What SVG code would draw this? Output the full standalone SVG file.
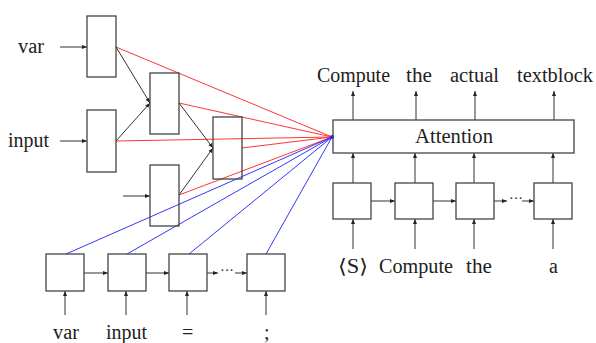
<svg xmlns="http://www.w3.org/2000/svg" width="596" height="343" viewBox="0 0 596 343">
<defs>
<marker id="ah" viewBox="0 0 10 10" refX="10" refY="5" markerWidth="5" markerHeight="5" orient="auto" markerUnits="userSpaceOnUse">
<path d="M0,1 L10,5 L0,9 z" fill="#222"/>
</marker>
</defs>
<style>
.box{fill:none;stroke:#444;stroke-width:1.3}
.ln{stroke:#333;stroke-width:1;fill:none}
.arr{stroke:#333;stroke-width:1;fill:none;marker-end:url(#ah)}
.red{stroke:#ff3535;stroke-width:1;fill:none}
.blue{stroke:#3535ff;stroke-width:1;fill:none}
text{font-family:"Liberation Serif","DejaVu Serif",serif;font-size:20px;fill:#222}
.dots{font-size:14px}
</style>
<rect width="596" height="343" fill="#fff"/>
<g id="connectors">
<path class="red" d="M116,47 L332,137 M179,103 L332,137 M116,141 L332,137 M242,148 L332,137 M179,195 L332,137"/>
<path class="blue" d="M66,254 L332,137 M127,254 L332,137 M189,254 L332,137 M266,254 L332,137"/>
<path class="arr" d="M60,47 L87,47"/>
<path class="arr" d="M60,141 L87,141"/>
<path class="arr" d="M123,196 L150,196"/>
<path class="arr" d="M116,47 L150,103"/>
<path class="arr" d="M116,141 L150,103"/>
<path class="arr" d="M179,103 L213,148"/>
<path class="arr" d="M179,195 L213,148"/>
<path class="arr" d="M84,273 L108,273"/>
<path class="arr" d="M146,273 L169,273"/>
<path class="arr" d="M207,273 L218,273"/>
<path class="arr" d="M235,273 L247,273"/>
<path class="arr" d="M65,315 L65,291"/>
<path class="arr" d="M126,315 L126,291"/>
<path class="arr" d="M187,315 L187,291"/>
<path class="arr" d="M266,315 L266,291"/>
<path class="arr" d="M371,201 L395,201"/>
<path class="arr" d="M433,201 L456,201"/>
<path class="arr" d="M494,201 L507,201"/>
<path class="arr" d="M522,201 L534,201"/>
<path class="arr" d="M353,249 L353,219"/>
<path class="arr" d="M415,249 L415,219"/>
<path class="arr" d="M474,249 L474,219"/>
<path class="arr" d="M553,249 L553,219"/>
<path class="arr" d="M353,183 L353,153"/>
<path class="arr" d="M415,183 L415,153"/>
<path class="arr" d="M474,183 L474,153"/>
<path class="arr" d="M553,183 L553,153"/>
<path class="arr" d="M353,120 L353,91"/>
<path class="arr" d="M416,120 L416,91"/>
<path class="arr" d="M475,120 L475,91"/>
<path class="arr" d="M554,120 L554,91"/>
<circle cx="332" cy="137" r="2" fill="#2020ff"/>
</g>
<g id="tree_a"><rect class="box" x="87" y="16" width="29" height="61"/></g>
<g id="tree_b"><rect class="box" x="87" y="110" width="29" height="62"/></g>
<g id="tree_c"><rect class="box" x="150" y="73" width="29" height="61"/></g>
<g id="tree_d"><rect class="box" x="150" y="165" width="29" height="61"/></g>
<g id="tree_e"><rect class="box" x="213" y="117" width="29" height="62"/></g>
<g id="enc1"><rect class="box" x="46" y="254" width="38" height="37"/></g>
<g id="enc2"><rect class="box" x="108" y="254" width="38" height="37"/></g>
<g id="enc3"><rect class="box" x="169" y="254" width="38" height="37"/></g>
<g id="enc4"><rect class="box" x="247" y="254" width="38" height="37"/></g>
<g id="dec1"><rect class="box" x="333" y="183" width="38" height="36"/></g>
<g id="dec2"><rect class="box" x="395" y="183" width="38" height="36"/></g>
<g id="dec3"><rect class="box" x="456" y="183" width="38" height="36"/></g>
<g id="dec4"><rect class="box" x="534" y="183" width="38" height="36"/></g>
<g id="attention"><rect class="box" x="333" y="120" width="241" height="33"/>
<text x="454" y="143" text-anchor="middle" textLength="78" lengthAdjust="spacingAndGlyphs">Attention</text></g>
<g id="labels">
<text x="18" y="53" textLength="26" lengthAdjust="spacingAndGlyphs">var</text>
<text x="8" y="147" textLength="41" lengthAdjust="spacingAndGlyphs">input</text>
<text x="317" y="82" textLength="73" lengthAdjust="spacingAndGlyphs">Compute</text>
<text x="406" y="82" textLength="26" lengthAdjust="spacingAndGlyphs">the</text>
<text x="450" y="82" textLength="49" lengthAdjust="spacingAndGlyphs">actual</text>
<text x="517" y="82" textLength="76" lengthAdjust="spacingAndGlyphs">textblock</text>
<text x="338" y="273" textLength="30" lengthAdjust="spacingAndGlyphs">⟨S⟩</text>
<text x="379" y="273" textLength="74" lengthAdjust="spacingAndGlyphs">Compute</text>
<text x="466" y="273" textLength="26" lengthAdjust="spacingAndGlyphs">the</text>
<text x="549" y="273">a</text>
<text x="53" y="339" textLength="26" lengthAdjust="spacingAndGlyphs">var</text>
<text x="106" y="339" textLength="41" lengthAdjust="spacingAndGlyphs">input</text>
<text x="182" y="339">=</text>
<text x="264" y="339">;</text>
<text class="dots" x="509" y="203">···</text>
<text class="dots" x="220" y="275">···</text>
</g>
</svg>
